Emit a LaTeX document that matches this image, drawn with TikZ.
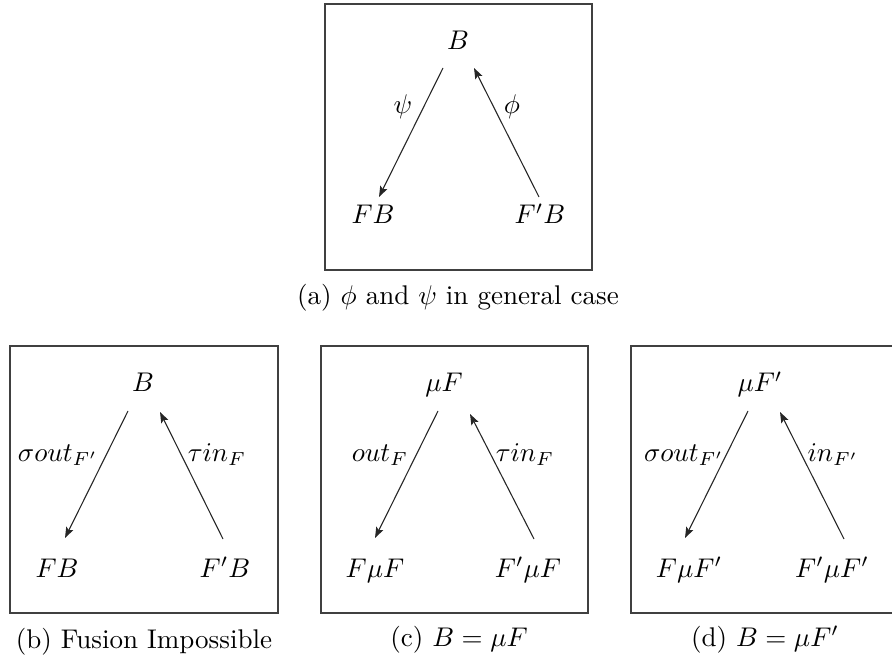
\documentclass[tikz,border=0pt]{standalone}
\usetikzlibrary{arrows.meta}
\begin{document}
\begin{tikzpicture}[x=0.37pt,y=-0.37pt,
  frame/.style={draw=black!75,line width=0.55pt},
  obj/.style={inner sep=0pt,anchor=base},
  lbl/.style={inner sep=0pt},
  captxt/.style={inner sep=0pt},
  arr/.style={line width=0.4pt,draw=black!85,-{Stealth[length=4pt,width=2.9pt,inset=0.8pt]}}]
\useasboundingbox (0,0) rectangle (892,660);
% ---- (a)
\draw[frame] (325,4) rectangle (592,270);
\node[obj] (aB) at (458,50) {$B$};
\node[obj] (aFB) at (373,224) {$FB$};
\node[obj] (aFpB) at (540,224) {$F'B$};
\coordinate (a1s) at (443,68); \coordinate (a1e) at (379,197);
\coordinate (a2s) at (539,197); \coordinate (a2e) at (474,68);
\draw[arr] (a1s) -- (a1e);
\draw[arr] (a2s) -- (a2e);
\node[lbl] (aL1) at (403,107) {$\psi$};
\node[lbl] (aL2) at (512,107) {$\phi$};
\node[captxt] (acap) at (458,298) {(a) $\phi$ and $\psi$ in general case};
% ---- (b)
\draw[frame] (10,346) rectangle (278,613);
\node[obj] (bB) at (143,392) {$B$};
\node[obj] (bFB) at (57,577) {$FB$};
\node[obj] (bFpB) at (225,577) {$F'B$};
\coordinate (b1s) at (128,411); \coordinate (b1e) at (65,538);
\coordinate (b2s) at (223,539); \coordinate (b2e) at (160,412);
\draw[arr] (b1s) -- (b1e);
\draw[arr] (b2s) -- (b2e);
\node[lbl] (bL1) at (58,455) {$\sigma out_{F'}$};
\node[lbl] (bL2) at (217,455) {$\tau in_F$};
\node[captxt] (bcap) at (144,642) {(b) Fusion Impossible};
% ---- (c)
\draw[frame] (321,346) rectangle (588,613);
\node[obj] (cB) at (444,392) {$\mu F$};
\node[obj] (cFB) at (375,577) {$F\mu F$};
\node[obj] (cFpB) at (528,577) {$F'\mu F$};
\coordinate (c1s) at (438,411); \coordinate (c1e) at (375,538);
\coordinate (c2s) at (534,539); \coordinate (c2e) at (470,414);
\draw[arr] (c1s) -- (c1e);
\draw[arr] (c2s) -- (c2e);
\node[lbl] (cL1) at (380,455) {$out_F$};
\node[lbl] (cL2) at (525,455) {$\tau in_F$};
\node[captxt] (ccap) at (459,640) {(c) $B=\mu F$};
% ---- (d)
\draw[frame] (631,346) rectangle (899,613);
\node[obj] (dB) at (760,392) {$\mu F'$};
\node[obj] (dFB) at (689,577) {$F\mu F'$};
\node[obj] (dFpB) at (832,577) {$F'\mu F'$};
\coordinate (d1s) at (748,411); \coordinate (d1e) at (685,538);
\coordinate (d2s) at (844,539); \coordinate (d2e) at (780,412);
\draw[arr] (d1s) -- (d1e);
\draw[arr] (d2s) -- (d2e);
\node[lbl] (dL1) at (684,455) {$\sigma out_{F'}$};
\node[lbl] (dL2) at (833,455) {$in_{F'}$};
\node[captxt] (dcap) at (765,640) {(d) $B=\mu F'$};
\end{tikzpicture}
\end{document}
